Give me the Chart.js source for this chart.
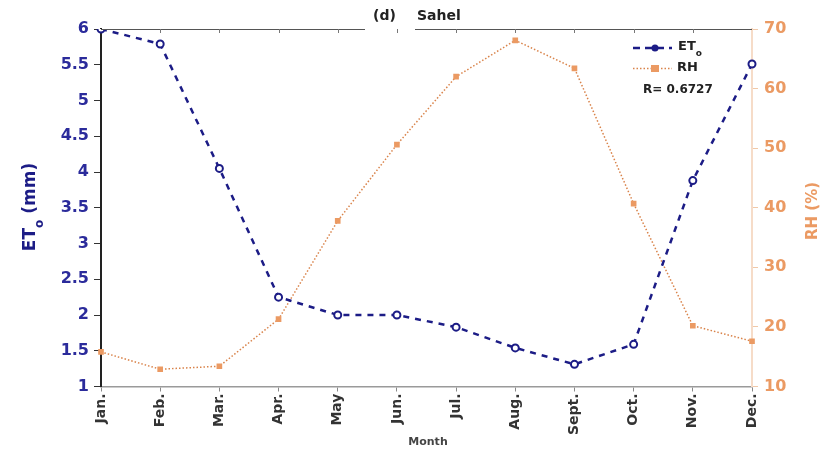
<!DOCTYPE html>
<html>
<head>
<meta charset="utf-8">
<script src="https://cdn.jsdelivr.net/npm/chart.js@4/dist/chart.umd.min.js"></script>
<style>
  html, body { margin: 0; padding: 0; background: #fff; }
  #wrap { width: 830px; height: 454px; }
</style>
</head>
<body>
<div id="wrap"><canvas id="etChart" width="830" height="454"></canvas></div>
<script>
// monthly means, Sahel
var months = ["Jan.", "Feb.", "Mar.", "Apr.", "May", "Jun.", "Jul.", "Aug.", "Sept.", "Oct.", "Nov.", "Dec."];
var eto = [6.0, 5.79, 4.05, 2.25, 2.0, 2.0, 1.83, 1.54, 1.31, 1.59, 3.88, 5.51];
var rh = [15.8, 12.9, 13.4, 21.3, 37.8, 50.6, 62.0, 68.1, 63.4, 40.7, 20.2, 17.6];
var corrText = "R= 0.6727";
var titleText = ["(d)", "Sahel"];

var navy = "#1c1c86";
var orange = "#d9834a";
var orangeLight = "#eb9a63";
var fontFam = "'DejaVu Sans', Verdana, sans-serif";

// frame, title, axis titles and legend are drawn by hand
var decorPlugin = {
    id: "decor",
    afterDraw: function (chart) {
        var ctx = chart.ctx;
        var area = chart.chartArea;
        var xs = chart.scales.x;

        // top border with a gap for the panel letter
        ctx.save();
        ctx.strokeStyle = "#555";
        ctx.lineWidth = 1;
        ctx.beginPath();
        ctx.moveTo(area.left, area.top + 0.5);
        ctx.lineTo(365, area.top + 0.5);
        ctx.moveTo(415, area.top + 0.5);
        ctx.lineTo(area.right, area.top + 0.5);
        ctx.stroke();
        ctx.strokeStyle = "#777";
        for (var i = 1; i < months.length - 1; i++) {
            var px = Math.round(xs.getPixelForValue(i)) + 0.5;
            ctx.beginPath();
            ctx.moveTo(px, area.top);
            ctx.lineTo(px, area.top + 4);
            ctx.stroke();
        }

        // panel title
        ctx.fillStyle = "#222";
        ctx.font = "bold 14px " + fontFam;
        ctx.textBaseline = "middle";
        ctx.textAlign = "left";
        ctx.fillText(titleText[0], 373, 16);
        ctx.fillText(titleText[1], 417, 16);

        // left axis title: ET with subscript o
        ctx.save();
        ctx.translate(31, 207);
        ctx.rotate(-Math.PI / 2);
        ctx.fillStyle = navy;
        ctx.textAlign = "left";
        ctx.textBaseline = "middle";
        ctx.font = "bold 17px " + fontFam;
        var w1 = ctx.measureText("ET").width;
        ctx.font = "bold 12px " + fontFam;
        var w2 = ctx.measureText("o").width;
        ctx.font = "bold 17px " + fontFam;
        var w3 = ctx.measureText(" (mm)").width;
        var x0 = -(w1 + w2 + w3) / 2;
        ctx.fillText("ET", x0, 0);
        ctx.font = "bold 12px " + fontFam;
        ctx.fillText("o", x0 + w1, 9);
        ctx.font = "bold 17px " + fontFam;
        ctx.fillText(" (mm)", x0 + w1 + w2, 0);
        ctx.restore();

        // right axis title
        ctx.save();
        ctx.translate(813, 211);
        ctx.rotate(-Math.PI / 2);
        ctx.fillStyle = orangeLight;
        ctx.textAlign = "center";
        ctx.textBaseline = "middle";
        ctx.font = "bold 15px " + fontFam;
        ctx.fillText("RH (%)", 0, 0);
        ctx.restore();

        // x axis title
        ctx.fillStyle = "#444";
        ctx.textAlign = "center";
        ctx.font = "bold 11px " + fontFam;
        ctx.fillText("Month", 428, 442);

        // legend
        var ds = chart.data.datasets;
        ctx.lineWidth = 2.5;
        ctx.strokeStyle = navy;
        ctx.setLineDash([7, 5]);
        ctx.beginPath();
        ctx.moveTo(633, 48);
        ctx.lineTo(672, 48);
        ctx.stroke();
        ctx.setLineDash([]);
        ctx.fillStyle = navy;
        ctx.beginPath();
        ctx.arc(655, 48, 3.5, 0, Math.PI * 2);
        ctx.fill();
        ctx.lineWidth = 1.5;
        ctx.strokeStyle = orange;
        ctx.setLineDash([1.5, 2]);
        ctx.beginPath();
        ctx.moveTo(633, 68.5);
        ctx.lineTo(672, 68.5);
        ctx.stroke();
        ctx.setLineDash([]);
        ctx.fillStyle = orangeLight;
        ctx.fillRect(651, 65, 8, 7);

        ctx.fillStyle = "#222";
        ctx.textAlign = "left";
        ctx.font = "bold 13px " + fontFam;
        ctx.fillText(ds[0].label, 678, 47);
        var we = ctx.measureText(ds[0].label).width;
        ctx.font = "bold 9px " + fontFam;
        ctx.fillText("o", 678 + we, 54);
        ctx.font = "bold 13px " + fontFam;
        ctx.fillText(ds[1].label, 677, 68);
        ctx.font = "bold 12px " + fontFam;
        ctx.fillText(corrText, 643, 90);
        ctx.restore();
    }
};

var ctx = document.getElementById("etChart").getContext("2d");
var chart = new Chart(ctx, {
    type: "line",
    data: {
        labels: months,
        datasets: [{
            label: "ET",
            data: eto,
            yAxisID: "y",
            borderColor: navy,
            borderWidth: 2.5,
            borderDash: [6, 6],
            pointStyle: "circle",
            pointRadius: 3.5,
            pointBorderWidth: 2,
            pointBorderColor: navy,
            pointBackgroundColor: "#ffffff",
            tension: 0,
            order: 1
        }, {
            label: "RH",
            data: rh,
            yAxisID: "y1",
            borderColor: orange,
            borderWidth: 1.5,
            borderDash: [1.5, 2],
            pointStyle: "rect",
            pointRadius: 4,
            pointBorderWidth: 0,
            pointBackgroundColor: orangeLight,
            tension: 0,
            order: 2
        }]
    },
    options: {
        responsive: false,
        animation: false,
        layout: { padding: { top: 29, left: 0, right: 0, bottom: 0 } },
        plugins: {
            legend: { display: false },
            tooltip: { enabled: false },
            title: { display: false }
        },
        scales: {
            x: {
                type: "category",
                offset: false,
                grid: {
                    drawOnChartArea: false,
                    drawTicks: true,
                    tickLength: 5,
                    color: "#888"
                },
                border: { color: "#9a9a9a", width: 1.5 },
                ticks: {
                    color: "#333",
                    font: { family: fontFam, size: 14, weight: "bold" },
                    minRotation: 90,
                    maxRotation: 90,
                    autoSkip: false,
                    padding: 2
                },
                afterFit: function (scale) { scale.height = 67.5; }
            },
            y: {
                position: "left",
                min: 1,
                max: 6,
                grid: {
                    drawOnChartArea: false,
                    tickLength: 7,
                    color: "#333"
                },
                border: { color: "#222", width: 2 },
                ticks: {
                    stepSize: 0.5,
                    color: "#2b2b9b",
                    font: { family: fontFam, size: 16, weight: "bold" },
                    padding: 5,
                    callback: function (v) { return String(v); }
                },
                afterFit: function (scale) { scale.width = 101; }
            },
            y1: {
                position: "right",
                min: 10,
                max: 70,
                grid: {
                    drawOnChartArea: false,
                    tickLength: 6,
                    color: "#f0c8a8"
                },
                border: { color: "#f6dcc8", width: 2 },
                ticks: {
                    stepSize: 10,
                    color: orangeLight,
                    font: { family: fontFam, size: 16, weight: "bold" },
                    padding: 6
                },
                afterFit: function (scale) { scale.width = 78; }
            }
        }
    },
    plugins: [decorPlugin]
});
</script>
</body>
</html>
